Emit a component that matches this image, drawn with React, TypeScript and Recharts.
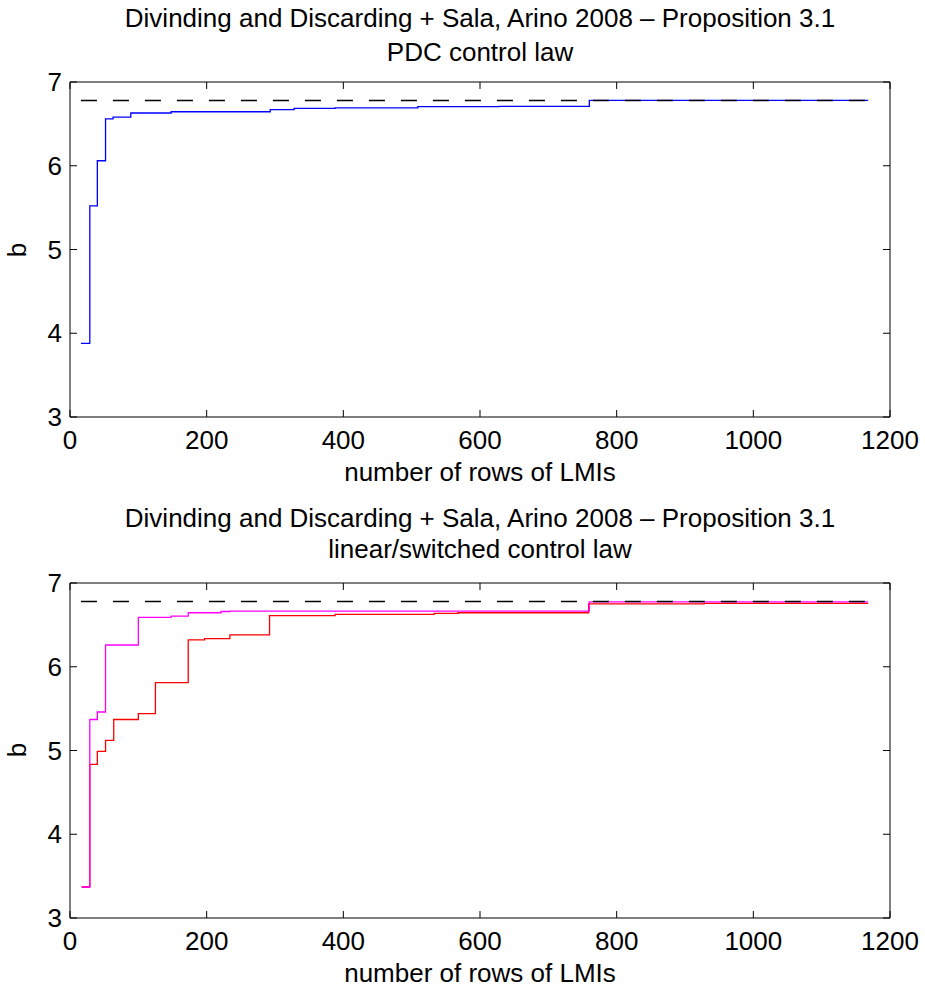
import { LineChart, Line, XAxis, YAxis } from "recharts";

const FONT = "'Liberation Sans', Arial, Helvetica, sans-serif";

const X_TICKS = [0, 200, 400, 600, 800, 1000, 1200];
const B_TICKS = [3, 4, 5, 6, 7];

// PDC control law (blue)
const PDC_ROWS = [16, 29, 40, 52, 63, 89, 148, 293, 328, 388, 509, 628, 760, 1168];
const PDC_B = [3.88, 5.52, 6.06, 6.56, 6.58, 6.63, 6.645, 6.67, 6.685, 6.69, 6.705, 6.71, 6.78, 6.78];

// linear control law (red)
const LIN_ROWS = [17, 29, 40, 52, 64, 100, 125, 173, 197, 234, 292, 388, 533, 568, 759, 928, 1168];
const LIN_B = [3.37, 4.835, 4.99, 5.12, 5.37, 5.44, 5.81, 6.32, 6.335, 6.38, 6.61, 6.625, 6.637, 6.645, 6.75, 6.757, 6.757];

// switched control law (magenta)
const SW_ROWS = [17, 29, 40, 52, 100, 148, 173, 221, 234, 760, 1168];
const SW_B = [3.37, 5.37, 5.46, 6.26, 6.59, 6.605, 6.645, 6.66, 6.665, 6.775, 6.775];

// reference bound (dashed)
const BOUND_ROWS = [16, 1168];
const BOUND_B = [6.78, 6.78];

const TITLE = "Divinding and Discarding + Sala, Arino 2008 \u2013 Proposition 3.1";

const zip = (xs: number[], ys: number[]) => xs.map((x, i) => ({ x, b: ys[i] }));

const TICK = 7;

const BottomTick = ({ x, y, payload }: any) => (
  <g>
    <line x1={x} y1={y} x2={x} y2={y - TICK} stroke="#000" />
    <text x={x} y={y + 32} textAnchor="middle" fontSize={26} fontFamily={FONT} fill="#000">
      {payload.value}
    </text>
  </g>
);
const TopTick = ({ x, y }: any) => <line x1={x} y1={y} x2={x} y2={y + TICK} stroke="#000" />;
const LeftTick = ({ x, y, payload }: any) => (
  <g>
    <line x1={x} y1={y} x2={x + TICK} y2={y} stroke="#000" />
    <text x={x - 8} y={y + 9} textAnchor="end" fontSize={26} fontFamily={FONT} fill="#000">
      {payload.value}
    </text>
  </g>
);
const RightTick = ({ x, y }: any) => <line x1={x} y1={y} x2={x - TICK} y2={y} stroke="#000" />;

type Series = { data: { x: number; b: number }[]; color: string; dashed?: boolean };

function Panel({
  offset,
  plotTop,
  plotBottom,
  subtitle,
  series,
  t1,
  t2,
  xl,
  yl,
}: {
  offset: number;
  plotTop: number;
  plotBottom: number;
  subtitle: string;
  series: Series[];
  t1: number;
  t2: number;
  xl: number;
  yl: number;
}) {
  const H = 495;
  return (
    <div style={{ position: "absolute", left: 0, top: offset, width: 925, height: H }}>
      <LineChart width={925} height={H} margin={{ top: plotTop - 1, right: 34, bottom: 0, left: 0 }}>
        <XAxis
          xAxisId="b"
          dataKey="x"
          type="number"
          domain={[0, 1200]}
          ticks={X_TICKS}
          height={H - plotBottom}
          tickSize={0}
          tickMargin={0}
          tickLine={false}
          tick={<BottomTick />}
          axisLine={{ stroke: "#000" }}
          allowDataOverflow
        />
        <XAxis
          xAxisId="t"
          orientation="top"
          dataKey="x"
          type="number"
          domain={[0, 1200]}
          ticks={X_TICKS}
          height={1}
          tickSize={0}
          tickMargin={0}
          tickLine={false}
          tick={<TopTick />}
          axisLine={{ stroke: "#000" }}
          allowDataOverflow
        />
        <YAxis
          yAxisId="l"
          type="number"
          domain={[3, 7]}
          ticks={B_TICKS}
          width={70}
          tickSize={0}
          tickMargin={0}
          tickLine={false}
          tick={<LeftTick />}
          axisLine={{ stroke: "#000" }}
          allowDataOverflow
        />
        <YAxis
          yAxisId="r"
          orientation="right"
          type="number"
          domain={[3, 7]}
          ticks={B_TICKS}
          width={1}
          tickSize={0}
          tickMargin={0}
          tickLine={false}
          tick={<RightTick />}
          axisLine={{ stroke: "#000" }}
          allowDataOverflow
        />
        {series.map((s, i) => (
          <Line
            key={i}
            xAxisId="b"
            yAxisId="l"
            data={s.data}
            dataKey="b"
            type={s.dashed ? "linear" : "stepAfter"}
            stroke={s.color}
            strokeWidth={s.dashed ? 1.5 : 1.3}
            strokeDasharray={s.dashed ? "16 16" : undefined}
            dot={false}
            activeDot={false}
            isAnimationActive={false}
          />
        ))}
        {/* invisible series so the top and right axes get drawn */}
        <Line
          xAxisId="t"
          yAxisId="r"
          data={series[0].data}
          dataKey="b"
          stroke="none"
          dot={false}
          activeDot={false}
          isAnimationActive={false}
        />
      </LineChart>
      <svg
        width={925}
        height={H}
        style={{ position: "absolute", left: 0, top: 0, pointerEvents: "none" }}
        fontFamily={FONT}
        fontSize={26}
      >
        <text x={480} y={t1} textAnchor="middle">{TITLE}</text>
        <text x={480} y={t2} textAnchor="middle">{subtitle}</text>
        <text x={480} y={xl} textAnchor="middle">number of rows of LMIs</text>
        <text x={26} y={yl} textAnchor="middle" transform={`rotate(-90 26 ${yl})`}>b</text>
      </svg>
    </div>
  );
}

export default function App() {
  return (
    <div style={{ position: "absolute", left: 0, top: 0, width: 925, height: 990, background: "#fff" }}>
      <Panel
        offset={0}
        plotTop={82}
        plotBottom={417}
        subtitle="PDC control law"
        t1={27}
        t2={61}
        xl={481}
        yl={250}
        series={[
          { data: zip(PDC_ROWS, PDC_B), color: "#0000ff" },
          { data: zip(BOUND_ROWS, BOUND_B), color: "#000", dashed: true },
        ]}
      />
      <Panel
        offset={495}
        plotTop={88}
        plotBottom={423}
        subtitle="linear/switched control law"
        t1={32}
        t2={63}
        xl={487}
        yl={255}
        series={[
          { data: zip(LIN_ROWS, LIN_B), color: "#ff0000" },
          { data: zip(SW_ROWS, SW_B), color: "#ff00ff" },
          { data: zip(BOUND_ROWS, BOUND_B), color: "#000", dashed: true },
        ]}
      />
    </div>
  );
}
